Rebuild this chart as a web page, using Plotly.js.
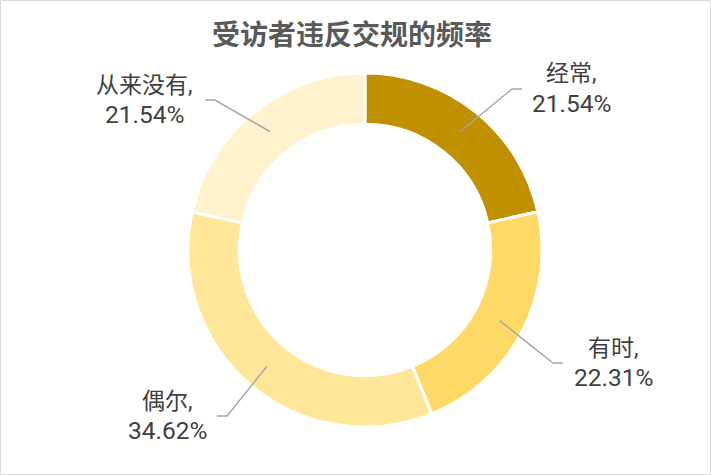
<!DOCTYPE html>
<html><head><meta charset="utf-8">
<script src="https://cdn.plot.ly/plotly-3.0.1.min.js"></script>
<style>html,body{margin:0;padding:0;background:#fff;}#chart{width:711px;height:475px;}</style>
</head><body><div id="chart"></div>
<script>
// Data
const categories = ["经常", "有时", "偶尔", "从来没有"];
const percents = [21.54, 22.31, 34.62, 21.54];
const tickLabels = ["21.54%", "22.31%", "34.62%", "21.54%"];

// Styles / layout constants
const colors = ["#BF9000", "#FFD966", "#FFE699", "#FFF2CC"];
const W = 711, H = 475;
const cx = 365, cy = 250, R = 177;
const holeFrac = 0.71;
const leaderStartR = 152;
// elbow pixel positions, horizontal direction, and label-center offsets
const elbows = [[512, 89], [553, 363], [227, 416], [215, 100]];
const hdir = [1, 1, -1, -1];
const hlen = 10;
const labelOffset = [49, 50, 50, 61];
const lineGapUp = 15, lineGapDown = 14;

const total = percents.reduce((a, b) => a + b, 0);
const px = x => x / W, py = y => 1 - y / H;
const catFont = {family: "Roboto, Noto Sans CJK SC, sans-serif", size: 23, color: "#404040"};
const valFont = {family: "Roboto, sans-serif", size: 24.5, color: "#404040"};

const shapes = [{type: "rect", xref: "paper", yref: "paper", x0: 0.5 / W, x1: 1 - 0.5 / W, y0: 0.5 / H, y1: 1 - 0.5 / H,
  line: {color: "#D9D9D9", width: 1}}];
const annotations = [];
let cum = 0;
percents.forEach((v, i) => {
  const mid = (cum + v / 2) / total * 2 * Math.PI;
  cum += v;
  const sx = cx + leaderStartR * Math.sin(mid), sy = cy - leaderStartR * Math.cos(mid);
  const [ex, ey] = elbows[i];
  const hx = ex + hdir[i] * hlen;
  shapes.push({type: "path", xref: "paper", yref: "paper",
    path: `M ${px(sx)} ${py(sy)} L ${px(ex)} ${py(ey)} L ${px(hx)} ${py(ey)}`,
    line: {color: "#A6A6A6", width: 1.5}});
  const tx = px(hx + hdir[i] * labelOffset[i]);
  annotations.push({xref: "paper", yref: "paper", x: tx, y: py(ey - lineGapUp), borderpad: 0,
    xanchor: "center", yanchor: "middle", showarrow: false, text: categories[i] + ",", font: catFont});
  annotations.push({xref: "paper", yref: "paper", x: tx, y: py(ey + lineGapDown), borderpad: 0,
    xanchor: "center", yanchor: "middle", showarrow: false, text: tickLabels[i], font: valFont});
});

const data = [{
  type: "pie", labels: categories, values: percents, sort: false, direction: "clockwise", rotation: 0,
  hole: holeFrac, textinfo: "none", hoverinfo: "none",
  marker: {colors: colors, line: {color: "#FFFFFF", width: 3}},
  domain: {x: [px(cx - R), px(cx + R)], y: [py(cy + R), py(cy - R)]}
}];

const layout = {
  width: W, height: H, margin: {l: 0, r: 0, t: 0, b: 0}, showlegend: false,
  paper_bgcolor: "#FFFFFF",
  title: {text: "<b>受访者违反交规的频率</b>", x: px(352), xanchor: "center", y: py(35), yanchor: "middle",
    font: {family: "Noto Sans CJK SC, sans-serif", size: 28, color: "#595959"}},
  shapes: shapes, annotations: annotations
};
Plotly.newPlot("chart", data, layout, {displayModeBar: false, staticPlot: true});
</script></body></html>
